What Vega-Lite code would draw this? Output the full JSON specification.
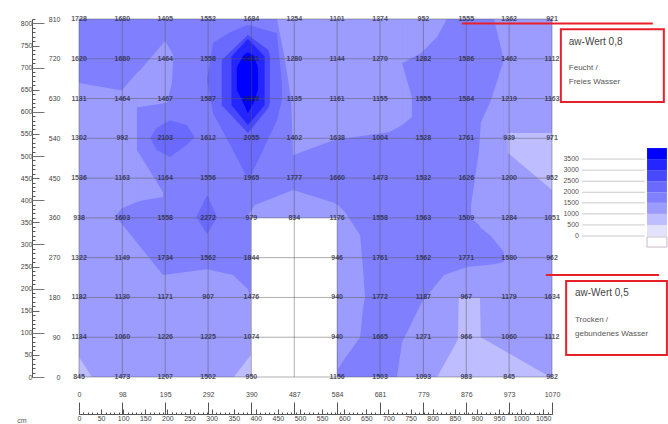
{"$schema":"https://vega.github.io/schema/vega-lite/v6.json","width":473,"height":358,"autosize":"none","padding":{"left":79,"top":19,"right":116,"bottom":47},"background":"white","config":{"view":{"stroke":null},"font":"Liberation Sans"},
"datasets":{
"contours":[
{"s":"B","l":"1000","x":0,"t":810,"b":0},{"s":"B","l":"1000","x":1070,"t":810,"b":0},
{"s":"A","l":"1500","x":0,"t":810,"b":665},{"s":"A","l":"1500","x":81,"t":810,"b":651},{"s":"A","l":"1500","x":84,"t":810,"b":362},{"s":"A","l":"1500","x":190,"t":810,"b":231},{"s":"A","l":"1500","x":290,"t":810,"b":244},{"s":"A","l":"1500","x":348,"t":810,"b":231},{"s":"A","l":"1500","x":382,"t":810,"b":199},{"s":"A","l":"1500","x":389,"t":810,"b":174},{"s":"A","l":"1500","x":584,"t":810,"b":0},{"s":"A","l":"1500","x":640,"t":810,"b":0},{"s":"A","l":"1500","x":719,"t":810,"b":0},{"s":"A","l":"1500","x":731,"t":810,"b":79},{"s":"A","l":"1500","x":776,"t":810,"b":170},{"s":"A","l":"1500","x":826,"t":810,"b":231},{"s":"A","l":"1500","x":878,"t":810,"b":249},{"s":"A","l":"1500","x":939,"t":810,"b":255},{"s":"A","l":"1500","x":961,"t":717,"b":260},
{"s":"W1","l":"1000","x":81,"t":651,"b":362},{"s":"W1","l":"1000","x":97,"t":649,"b":382},{"s":"W1","l":"1000","x":131,"t":688,"b":396},
{"s":"W2","l":"1000","x":131,"t":688,"b":611},{"s":"W2","l":"1000","x":138,"t":694,"b":611},{"s":"W2","l":"1000","x":195,"t":760,"b":620},{"s":"W2","l":"1000","x":199,"t":753,"b":620},{"s":"W2","l":"1000","x":210,"t":735,"b":665},{"s":"W2","l":"1000","x":213,"t":728,"b":717},
{"s":"W3","l":"1000","x":131,"t":513,"b":396},{"s":"W3","l":"1000","x":145,"t":491,"b":400},{"s":"W3","l":"1000","x":190,"t":418,"b":407},
{"s":"C1","l":"2000","x":161,"t":541,"b":541},{"s":"C1","l":"2000","x":176,"t":564,"b":513},{"s":"C1","l":"2000","x":206,"t":581,"b":498},{"s":"C1","l":"2000","x":244,"t":570,"b":525},{"s":"C1","l":"2000","x":262,"t":543,"b":543},
{"s":"C2","l":"2000","x":265,"t":362,"b":362},{"s":"C2","l":"2000","x":290,"t":412,"b":323},{"s":"C2","l":"2000","x":312,"t":362,"b":362},
{"s":"R1a","l":"1000","x":448,"t":810,"b":810},{"s":"R1a","l":"1000","x":466,"t":810,"b":717},{"s":"R1a","l":"1000","x":480,"t":810,"b":627},{"s":"R1a","l":"1000","x":484,"t":810,"b":502},{"s":"R1a","l":"1000","x":577,"t":810,"b":536},{"s":"R1a","l":"1000","x":651,"t":810,"b":547},{"s":"R1a","l":"1000","x":701,"t":810,"b":554},{"s":"R1a","l":"1000","x":731,"t":810,"b":570},
{"s":"R1b","l":"1000","x":731,"t":710,"b":570},{"s":"R1b","l":"1000","x":753,"t":633,"b":588},
{"s":"R1c","l":"1000","x":731,"t":810,"b":710},{"s":"R1c","l":"1000","x":774,"t":810,"b":733},{"s":"R1c","l":"1000","x":810,"t":810,"b":769},{"s":"R1c","l":"1000","x":832,"t":810,"b":810},
{"s":"P3","l":"2000","x":290,"t":672,"b":672},{"s":"P3","l":"2000","x":303,"t":756,"b":597},{"s":"P3","l":"2000","x":342,"t":780,"b":525},{"s":"P3","l":"2000","x":380,"t":796,"b":452},{"s":"P3","l":"2000","x":387,"t":796,"b":452},{"s":"P3","l":"2000","x":409,"t":789,"b":498},{"s":"P3","l":"2000","x":448,"t":778,"b":581},{"s":"P3","l":"2000","x":459,"t":665,"b":627},
{"s":"P4","l":"2500","x":323,"t":717,"b":615},{"s":"P4","l":"2500","x":382,"t":774,"b":552},{"s":"P4","l":"2500","x":428,"t":740,"b":608},{"s":"P4","l":"2500","x":432,"t":728,"b":620},
{"s":"P5","l":"3000","x":345,"t":725,"b":615},{"s":"P5","l":"3000","x":382,"t":765,"b":570},{"s":"P5","l":"3000","x":420,"t":725,"b":615},
{"s":"P6","l":"3500","x":357,"t":700,"b":650},{"s":"P6","l":"3500","x":372,"t":728,"b":620},{"s":"P6","l":"3500","x":382,"t":735,"b":597},{"s":"P6","l":"3500","x":395,"t":728,"b":620},{"s":"P6","l":"3500","x":405,"t":700,"b":650},
{"s":"R","l":"1000","x":887,"t":389,"b":360},{"s":"R","l":"1000","x":905,"t":513,"b":344},{"s":"R","l":"1000","x":909,"t":575,"b":337},{"s":"R","l":"1000","x":932,"t":627,"b":319},{"s":"R","l":"1000","x":961,"t":717,"b":283},
{"s":"S","l":"1000","x":380,"t":362,"b":360},{"s":"S","l":"1000","x":398,"t":389,"b":360},{"s":"S","l":"1000","x":484,"t":423,"b":360},{"s":"S","l":"1000","x":577,"t":394,"b":360},{"s":"S","l":"1000","x":584,"t":389,"b":360},{"s":"S","l":"1000","x":586,"t":389,"b":18},{"s":"S","l":"1000","x":602,"t":373,"b":43},{"s":"S","l":"1000","x":636,"t":321,"b":90},{"s":"S","l":"1000","x":642,"t":249,"b":152},{"s":"S","l":"1000","x":647,"t":181,"b":181},
{"s":"Z1","l":"500","x":970,"t":552,"b":507},{"s":"Z1","l":"500","x":1070,"t":552,"b":423},
{"s":"Z2","l":"500","x":810,"t":0,"b":0},{"s":"Z2","l":"500","x":857,"t":84,"b":0},{"s":"Z2","l":"500","x":859,"t":179,"b":0},{"s":"Z2","l":"500","x":907,"t":179,"b":0},{"s":"Z2","l":"500","x":909,"t":90,"b":0},{"s":"Z2","l":"500","x":1050,"t":9,"b":0},{"s":"Z2","l":"500","x":1070,"t":0,"b":0},
{"s":"Z3","l":"500","x":0,"t":45,"b":0},{"s":"Z3","l":"500","x":29,"t":0,"b":0},
{"s":"Z4","l":"500","x":350,"t":0,"b":0},{"s":"Z4","l":"500","x":389,"t":50,"b":0},
{"s":"Hole","l":"none","x":389,"t":360,"b":0},{"s":"Hole","l":"none","x":584,"t":360,"b":0}
],
"cols":[{"x":0},{"x":98},{"x":195},{"x":292},{"x":390},{"x":487},{"x":584},{"x":681},{"x":779},{"x":876},{"x":973},{"x":1070}],
"rows":[{"y":0},{"y":90},{"y":180},{"y":270},{"y":360},{"y":450},{"y":540},{"y":630},{"y":720},{"y":810}],
"cells":[
{"x":0,"y":810,"v":1728},{"x":98,"y":810,"v":1680},{"x":195,"y":810,"v":1405},{"x":292,"y":810,"v":1552},{"x":390,"y":810,"v":1684},{"x":487,"y":810,"v":1254},{"x":584,"y":810,"v":1101},{"x":681,"y":810,"v":1374},{"x":779,"y":810,"v":952},{"x":876,"y":810,"v":1555},{"x":973,"y":810,"v":1362},{"x":1070,"y":810,"v":921},
{"x":0,"y":720,"v":1620},{"x":98,"y":720,"v":1680},{"x":195,"y":720,"v":1464},{"x":292,"y":720,"v":1558},{"x":390,"y":720,"v":3021},{"x":487,"y":720,"v":1280},{"x":584,"y":720,"v":1144},{"x":681,"y":720,"v":1270},{"x":779,"y":720,"v":1282},{"x":876,"y":720,"v":1586},{"x":973,"y":720,"v":1462},{"x":1070,"y":720,"v":1112},
{"x":0,"y":630,"v":1131},{"x":98,"y":630,"v":1464},{"x":195,"y":630,"v":1467},{"x":292,"y":630,"v":1587},{"x":390,"y":630,"v":3238},{"x":487,"y":630,"v":1135},{"x":584,"y":630,"v":1161},{"x":681,"y":630,"v":1155},{"x":779,"y":630,"v":1555},{"x":876,"y":630,"v":1584},{"x":973,"y":630,"v":1219},{"x":1070,"y":630,"v":1163},
{"x":0,"y":540,"v":1302},{"x":98,"y":540,"v":992},{"x":195,"y":540,"v":2103},{"x":292,"y":540,"v":1612},{"x":390,"y":540,"v":2055},{"x":487,"y":540,"v":1402},{"x":584,"y":540,"v":1638},{"x":681,"y":540,"v":1004},{"x":779,"y":540,"v":1528},{"x":876,"y":540,"v":1761},{"x":973,"y":540,"v":939},{"x":1070,"y":540,"v":971},
{"x":0,"y":450,"v":1536},{"x":98,"y":450,"v":1163},{"x":195,"y":450,"v":1164},{"x":292,"y":450,"v":1556},{"x":390,"y":450,"v":1965},{"x":487,"y":450,"v":1777},{"x":584,"y":450,"v":1660},{"x":681,"y":450,"v":1473},{"x":779,"y":450,"v":1532},{"x":876,"y":450,"v":1626},{"x":973,"y":450,"v":1200},{"x":1070,"y":450,"v":952},
{"x":0,"y":360,"v":938},{"x":98,"y":360,"v":1603},{"x":195,"y":360,"v":1558},{"x":292,"y":360,"v":2272},{"x":390,"y":360,"v":979},{"x":487,"y":360,"v":834},{"x":584,"y":360,"v":1176},{"x":681,"y":360,"v":1558},{"x":779,"y":360,"v":1563},{"x":876,"y":360,"v":1509},{"x":973,"y":360,"v":1284},{"x":1070,"y":360,"v":1051},
{"x":0,"y":270,"v":1322},{"x":98,"y":270,"v":1149},{"x":195,"y":270,"v":1734},{"x":292,"y":270,"v":1562},{"x":390,"y":270,"v":1844},{"x":584,"y":270,"v":946},{"x":681,"y":270,"v":1761},{"x":779,"y":270,"v":1562},{"x":876,"y":270,"v":1771},{"x":973,"y":270,"v":1580},{"x":1070,"y":270,"v":962},
{"x":0,"y":180,"v":1182},{"x":98,"y":180,"v":1130},{"x":195,"y":180,"v":1171},{"x":292,"y":180,"v":907},{"x":390,"y":180,"v":1476},{"x":584,"y":180,"v":940},{"x":681,"y":180,"v":1772},{"x":779,"y":180,"v":1187},{"x":876,"y":180,"v":967},{"x":973,"y":180,"v":1179},{"x":1070,"y":180,"v":1634},
{"x":0,"y":90,"v":1134},{"x":98,"y":90,"v":1060},{"x":195,"y":90,"v":1226},{"x":292,"y":90,"v":1225},{"x":390,"y":90,"v":1074},{"x":584,"y":90,"v":940},{"x":681,"y":90,"v":1665},{"x":779,"y":90,"v":1271},{"x":876,"y":90,"v":966},{"x":973,"y":90,"v":1060},{"x":1070,"y":90,"v":1112},
{"x":0,"y":0,"v":845},{"x":98,"y":0,"v":1473},{"x":195,"y":0,"v":1207},{"x":292,"y":0,"v":1502},{"x":390,"y":0,"v":950},{"x":584,"y":0,"v":1156},{"x":681,"y":0,"v":1503},{"x":779,"y":0,"v":1093},{"x":876,"y":0,"v":983},{"x":973,"y":0,"v":845},{"x":1070,"y":0,"v":982}
],
"legendBar":[
{"l":"0","a":1285,"c":1330,"y":344,"y2":319},{"l":"500","a":1285,"c":1330,"y":369,"y2":344},{"l":"1000","a":1285,"c":1330,"y":394,"y2":369},{"l":"1500","a":1285,"c":1330,"y":418,"y2":394},{"l":"2000","a":1285,"c":1330,"y":443,"y2":418},{"l":"2500","a":1285,"c":1330,"y":468,"y2":443},{"l":"3000","a":1285,"c":1330,"y":493,"y2":468},{"l":"3500","a":1285,"c":1330,"y":518,"y2":493}
],
"legendTicks":[{"y":319,"t":"0","a":1138,"c":1280,"lx":1131},{"y":344,"t":"500","a":1138,"c":1280,"lx":1131},{"y":369,"t":"1000","a":1138,"c":1280,"lx":1131},{"y":394,"t":"1500","a":1138,"c":1280,"lx":1131},{"y":418,"t":"2000","a":1138,"c":1280,"lx":1131},{"y":443,"t":"2500","a":1138,"c":1280,"lx":1131},{"y":468,"t":"3000","a":1138,"c":1280,"lx":1131},{"y":493,"t":"3500","a":1138,"c":1280,"lx":1131}],
"one":[{"x":0,"y":0}]
},
"resolve":{"axis":{"x":"independent","y":"independent"}},
"layer":[
{"data":{"name":"contours"},"mark":{"type":"area","interpolate":"linear","clip":false},"encoding":{
"x":{"field":"x","type":"quantitative","scale":{"domain":[0,1070],"nice":false,"zero":false},"axis":null},
"y":{"field":"t","type":"quantitative","stack":null,"scale":{"domain":[0,810],"nice":false,"zero":false},"axis":null},
"y2":{"field":"b"},
"detail":{"field":"s"},
"color":{"field":"l","type":"nominal","legend":null,"scale":{"domain":["none","0","500","1000","1500","2000","2500","3000","3500"],"range":["#ffffff","#e2e2ff","#bdbdff","#9c9cff","#8080ff","#6a6aff","#4848ff","#2525ff","#0000ff"]}}
}},
{"data":{"name":"cols"},"mark":{"type":"rule","color":"#555","strokeWidth":0.8,"opacity":0.6},"encoding":{"x":{"field":"x","type":"quantitative","axis":null}}},
{"data":{"name":"rows"},"mark":{"type":"rule","color":"#555","strokeWidth":0.8,"opacity":0.6},"encoding":{"y":{"field":"y","type":"quantitative","axis":null}}},
{"data":{"name":"cells"},"mark":{"type":"text","fontSize":7,"fontWeight":"bold","color":"#223","opacity":0.75},"encoding":{"x":{"field":"x","type":"quantitative","axis":null},"y":{"field":"y","type":"quantitative","axis":null},"text":{"field":"v","type":"nominal"}}},
{"data":{"values":[{"x":866,"x2":1298,"y":800},{"x":1056,"x2":1312,"y":231}]},"mark":{"type":"rule","color":"#e8202a","strokeWidth":2},"encoding":{"x":{"field":"x","type":"quantitative","axis":null},"x2":{"field":"x2"},"y":{"field":"y","type":"quantitative","axis":null}}},
{"data":{"values":[{"x":1090,"x2":1323,"y":787,"y2":622},{"x":1102,"x2":1330,"y":217,"y2":50}]},"mark":{"type":"rect","fill":"#ffffff","stroke":"#e8202a","strokeWidth":2},"encoding":{"x":{"field":"x","type":"quantitative","axis":null},"x2":{"field":"x2"},"y":{"field":"y","type":"quantitative","axis":null},"y2":{"field":"y2"}}},
{"data":{"values":[{"x":1108,"y":758,"t":"aw-Wert 0,8"},{"x":1122,"y":190,"t":"aw-Wert 0,5"}]},"mark":{"type":"text","align":"left","fontSize":10,"color":"#444"},"encoding":{"x":{"field":"x","type":"quantitative","axis":null},"y":{"field":"y","type":"quantitative","axis":null},"text":{"field":"t"}}},
{"data":{"values":[{"x":1108,"y":699,"t":"Feucht /"},{"x":1108,"y":667,"t":"Freies Wasser"},{"x":1122,"y":129,"t":"Trocken /"},{"x":1122,"y":97,"t":"gebundenes Wasser"}]},"mark":{"type":"text","align":"left","fontSize":8,"color":"#555"},"encoding":{"x":{"field":"x","type":"quantitative","axis":null},"y":{"field":"y","type":"quantitative","axis":null},"text":{"field":"t"}}},
{"data":{"name":"legendTicks"},"mark":{"type":"rule","color":"#bbb","strokeWidth":0.8},"encoding":{"x":{"field":"a","type":"quantitative","axis":null},"x2":{"field":"c"},"y":{"field":"y","type":"quantitative","axis":null}}},
{"data":{"name":"legendTicks"},"mark":{"type":"text","align":"right","fontSize":7,"color":"#555"},"encoding":{"x":{"field":"lx","type":"quantitative","axis":null},"y":{"field":"y","type":"quantitative","axis":null},"text":{"field":"t"}}},
{"data":{"name":"legendBar"},"mark":{"type":"rect"},"encoding":{"x":{"field":"a","type":"quantitative","axis":null},"x2":{"field":"c"},"y":{"field":"y","type":"quantitative","axis":null},"y2":{"field":"y2"},"color":{"field":"l","type":"nominal","legend":null}}},
{"data":{"values":[{"x":1285,"x2":1330,"y":317,"y2":294}]},"mark":{"type":"rect","fill":"#ffffff","stroke":"#c9b9c9","strokeWidth":1},"encoding":{"x":{"field":"x","type":"quantitative","axis":null},"x2":{"field":"x2"},"y":{"field":"y","type":"quantitative","axis":null},"y2":{"field":"y2"}}},
{"data":{"values":[{"x":-129,"y":-100,"t":"cm"}]},"mark":{"type":"text","fontSize":7,"color":"#555"},"encoding":{"x":{"field":"x","type":"quantitative","axis":null},"y":{"field":"y","type":"quantitative","axis":null},"text":{"field":"t"}}},
{"data":{"name":"one"},"mark":{"type":"point","opacity":0},"encoding":{
"x":{"field":"x","type":"quantitative","axis":{"orient":"bottom","title":null,"values":[0,98,195,292,390,487,584,681,779,876,973,1070],"ticks":false,"domain":false,"grid":false,"offset":11,"labelPadding":2,"labelFontSize":7,"labelColor":"#444","labelFlush":false,"labelOverlap":false,"format":"d"}},
"y":{"field":"y","type":"quantitative","axis":{"orient":"left","title":null,"values":[0,90,180,270,360,450,540,630,720,810],"ticks":false,"domain":false,"grid":false,"labelPadding":19,"labelFontSize":7,"labelColor":"#444","labelOverlap":false,"format":"d"}}
}},
{"data":{"name":"one"},"mark":{"type":"point","opacity":0},"encoding":{
"x":{"field":"x","type":"quantitative","axis":{"orient":"bottom","title":null,"values":[0,10,20,30,40,50,60,70,80,90,100,110,120,130,140,150,160,170,180,190,200,210,220,230,240,250,260,270,280,290,300,310,320,330,340,350,360,370,380,390,400,410,420,430,440,450,460,470,480,490,500,510,520,530,540,550,560,570,580,590,600,610,620,630,640,650,660,670,680,690,700,710,720,730,740,750,760,770,780,790,800,810,820,830,840,850,860,870,880,890,900,910,920,930,940,950,960,970,980,990,1000,1010,1020,1030,1040,1050,1060,1070],"tickSize":-2,"tickColor":"#555","domain":true,"domainColor":"#555","grid":false,"offset":37,"labels":false,"labelOverlap":false}},
"y":{"field":"y","type":"quantitative","axis":{"orient":"left","title":null,"values":[0,10,20,30,40,50,60,70,80,90,100,110,120,130,140,150,160,170,180,190,200,210,220,230,240,250,260,270,280,290,300,310,320,330,340,350,360,370,380,390,400,410,420,430,440,450,460,470,480,490,500,510,520,530,540,550,560,570,580,590,600,610,620,630,640,650,660,670,680,690,700,710,720,730,740,750,760,770,780,790,800,810],"tickSize":-3,"tickColor":"#555","domain":true,"domainColor":"#555","grid":false,"offset":47,"labels":false}}
}},
{"data":{"name":"one"},"mark":{"type":"point","opacity":0},"encoding":{
"x":{"field":"x","type":"quantitative","axis":{"orient":"bottom","title":null,"values":[0,50,100,150,200,250,300,350,400,450,500,550,600,650,700,750,800,850,900,950,1000,1050],"tickSize":-5,"tickColor":"#555","domain":false,"grid":false,"offset":37,"labelPadding":5,"labelFontSize":7,"labelColor":"#444","labelFlush":false,"labelOverlap":false,"format":"d"}},
"y":{"field":"y","type":"quantitative","axis":{"orient":"left","title":null,"values":[0,50,100,150,200,250,300,350,400,450,500,550,600,650,700,750,800],"tickSize":-7,"tickColor":"#666","domain":false,"grid":false,"offset":47,"labelPadding":7,"labelFontSize":7,"labelColor":"#444","labelOverlap":false,"format":"d"}}
}},
{"data":{"name":"one"},"mark":{"type":"point","opacity":0},"encoding":{
"x":{"field":"x","type":"quantitative","axis":{"orient":"bottom","title":null,"values":[0,98,195,292,390,487,584,681,779,876,973,1070],"tickSize":-12,"tickColor":"#555","domain":false,"grid":false,"offset":37,"labels":false}},
"y":{"field":"y","type":"quantitative","axis":{"orient":"left","title":null,"values":[0,100,200,300,400,500,600,700,800],"tickSize":-12,"tickColor":"#777","domain":false,"grid":false,"offset":47,"labels":false}}
}}
]}
